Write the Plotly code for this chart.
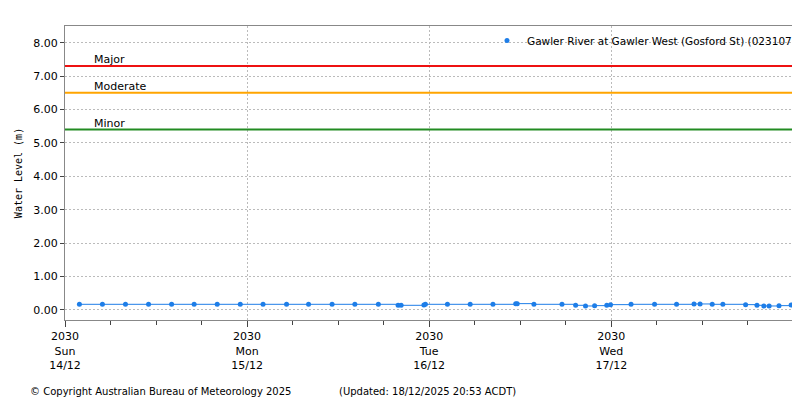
import plotly.graph_objects as go

hours = [1.9, 4.93, 7.97, 11.01, 14.05, 17.02, 20.06, 23.1, 26.1, 29.2, 32.1, 35.2, 38.2, 41.3,
         43.9, 44.3, 47.3, 47.5, 50.4, 53.4, 56.4, 59.4, 59.6, 61.8, 65.5, 67.3, 68.6, 69.8,
         71.4, 71.9, 74.6, 77.7, 80.6, 82.9, 83.7, 85.3, 86.7, 89.7, 91.2, 92.1, 92.8, 94.1,
         95.7, 96.7]
levels = [0.17, 0.17, 0.17, 0.17, 0.17, 0.17, 0.17, 0.17, 0.17, 0.17, 0.17, 0.17, 0.17, 0.17,
          0.14, 0.14, 0.15, 0.17, 0.17, 0.17, 0.17, 0.19, 0.19, 0.17, 0.17, 0.14, 0.12, 0.13,
          0.14, 0.16, 0.17, 0.17, 0.17, 0.18, 0.18, 0.17, 0.17, 0.16, 0.14, 0.12, 0.12, 0.13,
          0.15, 0.16]
thresholds = [("Major", 7.3, "#ee1111"), ("Moderate", 6.5, "#ffa500"), ("Minor", 5.4, "#228b22")]
tick_hours = [0, 24, 48, 72]
tick_text = ["2030<br>Sun<br>14/12", "2030<br>Mon<br>15/12", "2030<br>Tue<br>16/12", "2030<br>Wed<br>17/12"]

blue = "#1e7ee8"
fig = go.Figure()
for name, lvl, col in thresholds:
    fig.add_hline(y=lvl, line=dict(color=col, width=2))
    fig.add_annotation(x=3.5, y=lvl, text=name, showarrow=False, xanchor="left",
                       yanchor="bottom", yshift=-2, font=dict(size=11, color="black"))

fig.add_trace(go.Scatter(x=hours, y=levels, mode="lines", line=dict(color=blue, width=1, shape="hv"),
                         showlegend=False, hoverinfo="skip"))
fig.add_trace(go.Scatter(
    x=hours, y=levels, mode="markers", marker=dict(size=5, color=blue),
    name="Gawler River at Gawler West (Gosford St) (023107)"
))

fig.update_layout(
    width=800, height=400, plot_bgcolor="white", paper_bgcolor="white",
    margin=dict(l=57, r=7, t=18, b=88, autoexpand=False),
    font=dict(family="DejaVu Sans", size=11, color="black"),
    showlegend=True,
    legend=dict(x=1, y=1, xanchor="right", yanchor="top", bgcolor="rgba(0,0,0,0)",
                font=dict(size=10.5), itemwidth=30),
    xaxis=dict(range=[0, 97], tickvals=tick_hours, ticktext=tick_text, ticks="outside",
               ticklen=6, showgrid=True, gridcolor="#bbbbbb", griddash="2px,2px",
               showline=True, linecolor="#888888", mirror=True, zeroline=False, automargin=False,
               minor=dict(dtick=6, ticks="outside", ticklen=4, showgrid=False)),
    yaxis=dict(range=[-0.3, 8.5], dtick=1, tickformat=".2f", ticks="outside", ticklen=4,
               showgrid=True, gridcolor="#bbbbbb", griddash="2px,2px", zeroline=False,
               showline=True, linecolor="#888888", mirror=True, automargin=False,
               title=dict(text="Water Level (m)", font=dict(family="DejaVu Sans Mono", size=10),
                          standoff=8)),
)
fig.add_annotation(x=-0.05, y=-0.27, xref="paper", yref="paper", xanchor="left", showarrow=False,
                   text="© Copyright Australian Bureau of Meteorology 2025", font=dict(size=10))
fig.add_annotation(x=0.37, y=-0.27, xref="paper", yref="paper", xanchor="left", showarrow=False,
                   text="(Updated: 18/12/2025 20:53 ACDT)", font=dict(size=10))
fig.write_html("out.html")
